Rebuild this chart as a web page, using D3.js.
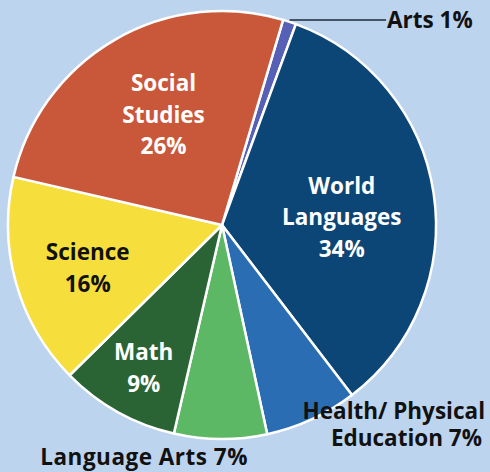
<!DOCTYPE html>
<html><head><meta charset="utf-8">
<script src="https://cdn.jsdelivr.net/npm/d3@7/dist/d3.min.js"></script>
<style>
html,body{margin:0;padding:0;background:#bdd4ee;}
svg{display:block;}
text{font-family:"Open Sans","Noto Sans",sans-serif;font-weight:700;}
</style></head>
<body>
<svg id="chart" width="490" height="472"></svg>
<script>
const categories = ["Arts", "World Languages", "Health/ Physical Education", "Language Arts", "Math", "Science", "Social Studies"];
const values = [1, 34, 7, 7, 9, 16, 26];
const colors = ["#5660b4", "#0c4677", "#2b6db3", "#5cb864", "#2a6434", "#f6de3c", "#c9583a"];

const W = 490, H = 472, cx = 222, cy = 225, R = 214;
const FS = 22.5;
const svg = d3.select("#chart");
svg.append("rect").attr("width", W).attr("height", H).attr("fill", "#bdd4ee");
const g = svg.append("g").attr("transform", `translate(${cx},${cy})`);

const start = 16.6 * Math.PI / 180;
const pie = d3.pie().sort(null).value(d => d).startAngle(start).endAngle(start + 2 * Math.PI);
const arcs = pie(values);
const arc = d3.arc().innerRadius(0).outerRadius(R);

g.selectAll("path").data(arcs).join("path")
  .attr("d", arc)
  .attr("fill", (d, i) => colors[i])
  .attr("stroke", "#ffffff")
  .attr("stroke-width", 2.5)
  .attr("stroke-linejoin", "round");

const inside = [
  {i: 6, r: 125, da: 2.3, lines: ["Social", "Studies", "26%"], fill: "#ffffff"},
  {i: 1, r: 120, da: 4.9, lines: ["World", "Languages", "34%"], fill: "#ffffff"},
  {i: 5, r: 141, da: -2, lines: ["Science", "16%"], fill: "#111111"},
  {i: 4, r: 163, da: -0.5, lines: ["Math", "9%"], fill: "#ffffff"}
];
const lh = 31.5;
inside.forEach(L => {
  const a = arcs[L.i];
  const mid = (a.startAngle + a.endAngle) / 2 + L.da * Math.PI / 180;
  const x = L.r * Math.sin(mid), y = -L.r * Math.cos(mid);
  const t = g.append("text").attr("text-anchor", "middle").attr("fill", L.fill)
    .attr("font-size", FS);
  L.lines.forEach((s, k) => {
    t.append("tspan").attr("x", x)
      .attr("y", y + (k - (L.lines.length - 1) / 2) * lh)
      .attr("dy", "0.36em").text(s);
  });
});

// Arts leader line
const artsMid = (arcs[0].startAngle + arcs[0].endAngle) / 2;
const ax = R * Math.sin(artsMid), ay = -R * Math.cos(artsMid);
g.append("line").attr("x1", ax).attr("y1", ay - 2).attr("x2", 164).attr("y2", ay - 2)
  .attr("stroke", "#1c2a3a").attr("stroke-width", 1.5);
g.append("text").attr("x", 165).attr("y", ay - 2).attr("dy", "0.36em")
  .attr("font-size", FS).attr("fill", "#111111").text(`${categories[0]} ${values[0]}%`);

// Health / Physical Education
const h = g.append("text").attr("text-anchor", "end").attr("font-size", FS).attr("fill", "#111111");
h.append("tspan").attr("x", 263).attr("y", 186).attr("dy", "0.36em").text("Health/ Physical");
h.append("tspan").attr("x", 260).attr("y", 213).attr("dy", "0.36em").text(`Education ${values[2]}%`);

// Language Arts
g.append("text").attr("text-anchor", "end").attr("x", 26).attr("y", 232).attr("dy", "0.36em")
  .attr("font-size", FS).attr("fill", "#111111").attr("letter-spacing", 0.5)
  .text(`${categories[3]} ${values[3]}%`);
</script>
</body></html>
